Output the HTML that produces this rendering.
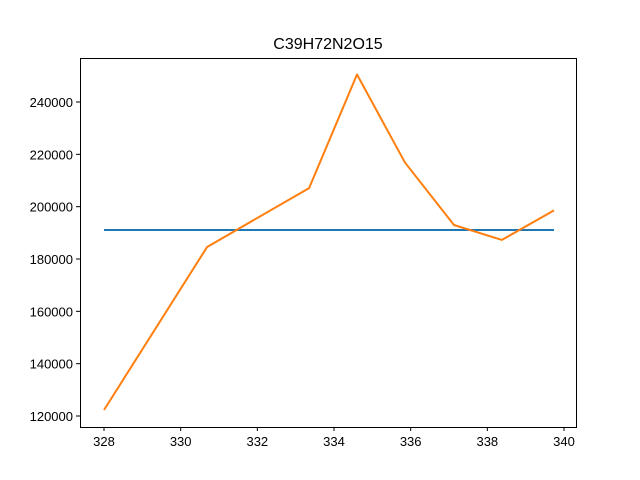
<!DOCTYPE html>
<html><head><meta charset="utf-8"><style>body{margin:0;background:#fff}svg{display:block;font-family:"Liberation Sans","DejaVu Sans",sans-serif}</style></head>
<body>
<svg id="c" width="640" height="480"></svg>
<script>
const xVals=[328,330.69,333.35,334.6,335.85,337.13,338.38,339.74];
const yVals=[122300,184600,207100,250500,216900,193000,187300,198600];
const refX=[328,339.74];
const refY=[191100,191100];
const xTicks=[328,330,332,334,336,338,340];
const yTicks=[120000,140000,160000,180000,200000,220000,240000];
const NS='http://www.w3.org/2000/svg';
const svg=document.getElementById('c');
function X(v){return 104+(v-328)*(460/12);}
function Y(v){return 416-(v-120000)*(314/120000);}
function el(t,a,p){const e=document.createElementNS(NS,t);for(const k in a)e.setAttribute(k,a[k]);(p||svg).appendChild(e);return e;}
const title=el('text',{x:328,y:49,'text-anchor':'middle','font-size':16,fill:'#000'});title.textContent='C39H72N2O15';


xTicks.forEach(t=>{const x=X(t);el('line',{x1:x,x2:x,y1:427,y2:431,stroke:'#000'});const tx=el('text',{x:x,y:446,'text-anchor':'middle','font-size':13});tx.textContent=t;

});
yTicks.forEach(t=>{const y=Y(t);el('line',{x1:76,x2:80,y1:y,y2:y,stroke:'#000'});const tx=el('text',{x:73,y:y+5,'text-anchor':'end','font-size':13});tx.textContent=t;

});
const ref=el('polyline',{points:refX.map((v,i)=>X(v)+','+Y(refY[i])).join(' '),fill:'none',stroke:'#1f77b4','stroke-width':2});


const line=el('polyline',{points:xVals.map((v,i)=>X(v)+','+Y(yVals[i])).join(' '),fill:'none',stroke:'#ff7f0e','stroke-width':2,'stroke-linejoin':'round'});


const frame=el('rect',{x:80.5,y:58.5,width:496,height:369,fill:'none',stroke:'#000','stroke-width':1});


</script>
</body></html>
